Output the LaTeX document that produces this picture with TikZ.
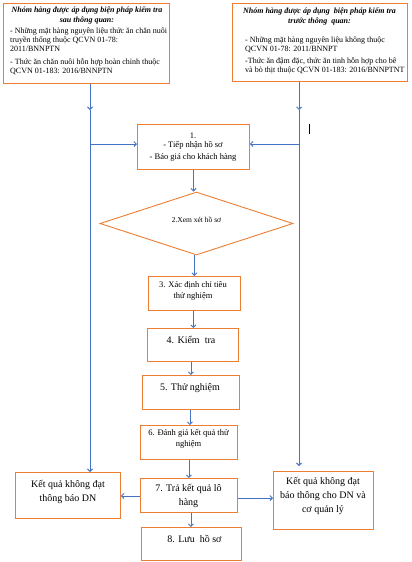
\documentclass[tikz,border=0pt]{standalone}
\usepackage{fontspec}
\setmainfont{Liberation Serif}
\usetikzlibrary{arrows.meta,shapes.geometric}
\definecolor{boxor}{HTML}{ED7D31}
\definecolor{lnblue}{HTML}{4472C4}
\begin{document}
\begin{tikzpicture}[x=1pt,y=-1pt,
  box/.style={draw=boxor, line width=0.9pt, rectangle, inner sep=0pt, anchor=north west},
  conn/.style={draw=lnblue, line width=0.9pt},
  arr/.style={conn, -{Straight Barb[length=2.5pt,width=5pt]}},
  txt/.style={inner sep=0pt, font=\fontsize{10}{14}\selectfont, align=center},
  stxt/.style={inner sep=0pt, font=\fontsize{8.5}{11}\selectfont, align=center},
  ttl/.style={inner sep=0pt, font=\fontsize{8}{10}\selectfont\bfseries\itshape, align=center},
  body/.style={inner sep=0pt, font=\fontsize{8}{9}\selectfont, align=left, anchor=west},
  ]
\useasboundingbox (0,0) rectangle (412,562);
\fill[white] (0,0) rectangle (412,562);

% boxes
\node[box, minimum width=166, minimum height=80] (tl) at (3,3) {};
\node[box, minimum width=175, minimum height=78] (tr) at (232,3) {};
\node[box, minimum width=112, minimum height=45] (b1) at (137,124) {};
\node[draw=boxor, line width=0.9pt, diamond, inner sep=0pt, minimum width=193, minimum height=63] (d2) at (196.5,223.5) {};
\node[box, minimum width=92, minimum height=34] (b3) at (148,276) {};
\node[box, minimum width=91, minimum height=33] (b4) at (147,328) {};
\node[box, minimum width=97, minimum height=34] (b5) at (142,375) {};
\node[box, minimum width=97, minimum height=34] (b6) at (140,425) {};
\node[box, minimum width=97, minimum height=34] (b7) at (140,478) {};
\node[box, minimum width=100, minimum height=33] (b8) at (141,527) {};
\node[box, minimum width=105, minimum height=46] (rl) at (15,472) {};
\node[box, minimum width=100, minimum height=58] (rr) at (273,471) {};

% texts
\node[ttl] (tlt) at (87,15) {Nhóm hàng được áp dụng biện pháp kiểm tra\\sau thông quan:};
\node[body] (tlb) at (10,51.5) {- Những mặt hàng nguyên liệu thức ăn chăn nuôi\\truyền thống thuộc QCVN 01-78:\\2011/BNNPTN\\[4pt]- Thức ăn chăn nuôi hỗn hợp hoàn chỉnh thuộc\\QCVN 01-183: 2016/BNNPTN};
\node[ttl] (trt) at (319.5,16.5) {Nhóm hàng được áp dụng \ biện pháp kiểm tra\\trước thông \ quan:};
\node[body] (trb) at (245,55) {- Những mặt hàng nguyên liệu không thuộc\\QCVN 01-78: 2011/BNNPT\\[3pt]-Thức ăn đậm đặc, thức ăn tinh hỗn hợp cho bê\\và bò thịt thuộc QCVN 01-183: 2016/BNNPTNT};
\node[inner sep=0pt, font=\fontsize{8.5}{9}\selectfont, align=center] (t1) at (193,147.5) {1.\\- Tiếp nhận hồ sơ\\[3pt]- Báo giá cho khách hàng};
\node[inner sep=0pt, font=\fontsize{7.5}{9}\selectfont] (t2) at (196.5,220) {2.Xem xét hồ sơ};
\node[stxt] (t3) at (193,290.5) {3. Xác định chỉ tiêu\\thử nghiệm};
\node[txt] (t4) at (191,340) {4. Kiểm \ tra};
\node[txt] (t5) at (190,388) {5. Thử nghiệm};
\node[stxt] (t6) at (188.5,438.5) {6. Đánh giá kết quả thử\\nghiệm};
\node[txt] (t7) at (188.5,496) {7. Trả kết quả lô\\hàng};
\node[txt] (t8) at (194.5,539) {8. Lưu \ hồ sơ};
\node[txt] (trl) at (68,492) {Kết quả không đạt\\thông báo DN};
\node[txt] (trr) at (323,496) {Kết quả không đạt\\báo thông cho DN và\\cơ quản lý};

% connectors
\coordinate (lt) at (90,110);
\coordinate (rt) at (299,110);
\coordinate (lb) at (90,144);
\coordinate (rb) at (299,144);
\coordinate (re) at (299,466);
\draw[arr] (tl.south -| lt) -- (lt);
\draw[conn] (lt) -- (lb);
\draw[arr] (lb) -- (rl.north -| lb);
\draw[arr] (lb) -- (b1.west |- lb);
\draw[arr] (tr.south -| rt) -- (rt);
\draw[conn] (rt) -- (rb);
\draw[arr] (rb) -- (re);
\draw[arr] (rb) -- (b1.east |- rb);
\draw[arr] (b1.south) -- (d2.north -| b1.south);
\draw[arr] (b3.north |- d2.south) -- (b3.north);
\draw[arr] ([xshift=-1pt]b3.south) -- ([xshift=-1pt]b4.north -| b3.south);
\draw[arr] (b5.north |- b4.south) -- (b5.north);
\draw[arr] ([xshift=-1pt]b5.south) -- ([xshift=-1pt]b6.north -| b5.south);
\draw[arr] (b7.north |- b6.south) -- (b7.north);
\draw[arr] ([xshift=2pt]b7.south) -- ([xshift=2pt]b8.north -| b7.south);
\coordinate (l7) at (140,496);
\coordinate (r7) at (237,498);
\draw[arr] (b7.west |- l7) -- (rl.east |- l7);
\draw[arr] (b7.east |- r7) -- (rr.west |- r7);
% stray text cursor
\draw[line width=0.8pt] (309,124) -- (309,134);
\end{tikzpicture}
\end{document}
